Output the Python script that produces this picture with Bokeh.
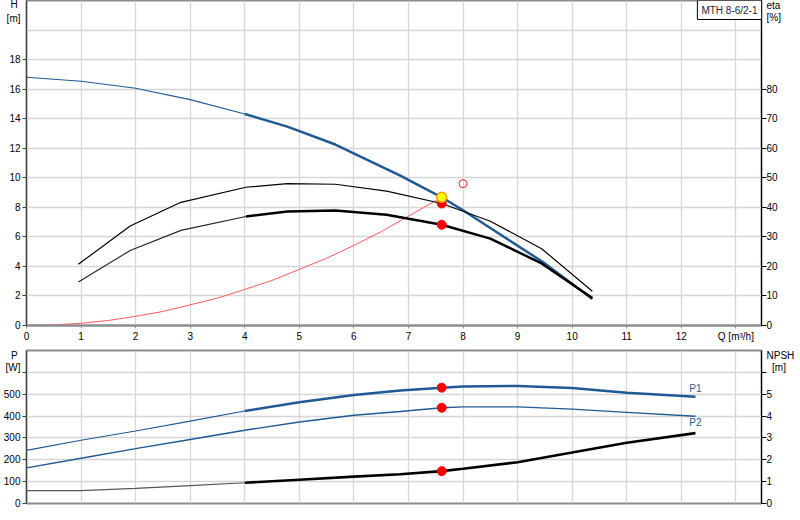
from bokeh.plotting import figure
from bokeh.layouts import column
from bokeh.models import Range1d, LinearAxis, FixedTicker, Label, NumeralTickFormatter
from bokeh.core.properties import value
from bokeh.embed import file_html
from bokeh.resources import INLINE

# ---------------- data ----------------
q_ticks = [0, 1, 2, 3, 4, 5, 6, 7, 8, 9, 10, 11, 12, 13]
h_ticks = [0, 2, 4, 6, 8, 10, 12, 14, 16, 18]
eta_ticks = [0, 10, 20, 30, 40, 50, 60, 70, 80]
p_ticks = [0, 100, 200, 300, 400, 500]
npsh_ticks = [0, 1, 2, 3, 4, 5]
p_mark_ticks = [0, 100, 200, 300, 400, 500, 600]
npsh_mark_ticks = [0, 1, 2, 3, 4, 5, 6]

# pump head curve H [m]
q_h = [0, 1, 2, 3, 4, 4.78, 5.66, 6.85, 7.61, 8.0, 8.5, 9.47, 10.37]
h_pump = [16.8, 16.53, 16.06, 15.29, 14.32, 13.46, 12.25, 10.15, 8.68, 7.8, 6.6, 4.28, 1.8]

# efficiency curves eta [%]
q_eta = [0.95, 1.9, 2.83, 4.02, 4.78, 5.66, 6.6, 7.61, 8.5, 9.44, 10.37]
eta_upper = [20.7, 33.7, 41.7, 46.8, 48.0, 47.8, 45.5, 41.3, 35.3, 26.0, 11.6]
eta_lower = [14.7, 25.4, 32.2, 36.9, 38.6, 38.9, 37.5, 34.1, 29.4, 21.0, 9.3]

# system curve H [m]
q_sys = [0, 0.5, 1, 1.5, 2, 2.5, 3, 3.5, 4, 4.5, 5, 5.5, 6, 6.5, 7, 7.61]
h_sys = [0, 0.04, 0.15, 0.34, 0.62, 0.95, 1.4, 1.85, 2.44, 3.05, 3.8, 4.55, 5.42, 6.35, 7.4, 8.68]

# duty point and requested point
q_duty = [7.61]
h_duty = [8.68]
eta_duty = [41.3, 34.1]
q_req = [8.0]
h_req = [9.6]

# power P1/P2 [W] and NPSH [m]
q_p = [0, 1, 2, 3, 4, 5, 6, 6.85, 7.61, 8, 9, 10, 11, 12.26]
p1 = [243, 289, 332, 377, 423, 463, 496, 517, 530, 535, 538, 528, 507, 488]
p2 = [163, 207, 251, 293, 335, 373, 404, 421, 438, 442, 442, 432, 417, 399]
npsh = [0.59, 0.59, 0.69, 0.82, 0.95, 1.09, 1.23, 1.34, 1.48, 1.59, 1.89, 2.33, 2.78, 3.22]
p_duty = [530, 438]
npsh_duty = [1.48]

title_text = "MTH 8-6/2-1"
curve_names = ["P1", "P2"]
curve_label_pos = [527, 372]

# axis titles, written as tick labels at the top of each axis
h_title = {21.7: "H\u00a0", 20.8: "[m]"}
eta_title = {108.3: "eta", 104.1: "[%]"}
p_title = {679: "P\u00a0", 622: "[W]"}
npsh_title = {6.79: "NPSH", 6.22: "\u00a0\u00a0[m]"}

# ---------------- style ----------------
FONT = "Liberation Sans"
FS = "10px"
BLUE = "#1f5a94"
GRID = "#d6d6d6"
Q_MAX = 13.47
idx4 = 4
W = 800
BL = 26
BR = 39


def style_axis(ax, color, mark_ticks, label_ticks, titles, tick_out, standoff):
    """Labels are majors (no marks); the visible tick marks are minor ticks."""
    ax.ticker = FixedTicker(ticks=label_ticks + list(titles.keys()), minor_ticks=mark_ticks)
    ax.formatter = NumeralTickFormatter(format="0")
    ax.major_label_overrides = dict(titles)
    ax.axis_line_color = color
    ax.major_tick_line_color = None
    ax.major_tick_out = 0
    ax.major_tick_in = 0
    ax.minor_tick_line_color = color
    ax.minor_tick_out = tick_out
    ax.minor_tick_in = 0
    ax.major_label_standoff = standoff
    ax.major_label_text_font = FONT
    ax.major_label_text_font_size = FS
    ax.major_label_text_color = "#000000"


# ---------------- top chart ----------------
top = figure(width=W, height=345, output_backend="svg", toolbar_location=None,
             x_range=Range1d(0, Q_MAX), y_range=Range1d(0, 22),
             min_border_left=BL, min_border_right=BR, min_border_top=0, min_border_bottom=20)
top.extra_y_ranges = {"eta": Range1d(0, 110)}
top.outline_line_color = "#8c8c8c"
top.outline_line_width = 2
top.xgrid.ticker = FixedTicker(ticks=q_ticks[1:])
top.ygrid.ticker = FixedTicker(ticks=h_ticks[1:] + [20])
top.xgrid.grid_line_color = GRID
top.ygrid.grid_line_color = GRID
top.xgrid.grid_line_width = 1.3
top.ygrid.grid_line_width = 1.3

xa = top.xaxis[0]
xa.ticker = FixedTicker(ticks=q_ticks)
xa.major_label_overrides = {13: "Q [m³/h]"}
xa.axis_line_color = "#8c8c8c"
xa.axis_line_width = 2
xa.major_tick_line_color = "#8c8c8c"
xa.major_tick_out = 3
xa.major_tick_in = 0
xa.minor_tick_line_color = None
xa.major_label_standoff = 2
xa.major_label_text_font = FONT
xa.major_label_text_font_size = FS
xa.major_label_text_color = "#000000"

style_axis(top.yaxis[0], "#404040", h_ticks, h_ticks, h_title, 4, 2)

eta_axis = LinearAxis(y_range_name="eta")
style_axis(eta_axis, "#000000", eta_ticks, eta_ticks, eta_title, 5, 0)
top.add_layout(eta_axis, "right")

top.line(q_sys, h_sys, line_color="#ff5a5a", line_width=1)
top.line(q_h[:idx4 + 1], h_pump[:idx4 + 1], line_color=BLUE, line_width=1.1)
top.line(q_h[idx4:], h_pump[idx4:], line_color=BLUE, line_width=2.5)
top.line(q_eta, eta_upper, line_color="#000000", line_width=1.2, y_range_name="eta")
top.line(q_eta[:4], eta_lower[:4], line_color="#222222", line_width=1.1, y_range_name="eta")
top.line(q_eta[3:], eta_lower[3:], line_color="#000000", line_width=2.4, y_range_name="eta")
top.scatter(q_duty * 2, eta_duty, size=9, fill_color="#ff0000", line_color="#ff0000",
            y_range_name="eta")
top.scatter(q_duty, h_duty, size=10, fill_color="#ffff00", line_color="#ff9a00", line_width=1.5)
top.scatter(q_req, h_req, size=8, fill_color=None, line_color="#ff2020", line_width=1)

top.add_layout(Label(x=Q_MAX, y=22, text=title_text, text_align="right", text_baseline="top",
                     text_font=FONT, text_font_size=FS, text_color="#1a2340",
                     background_fill_color="white", border_line_color="#000000",
                     border_line_width=1, padding=4))

# ---------------- bottom chart ----------------
bot = figure(width=W, height=166, output_backend="svg", toolbar_location=None,
             x_range=top.x_range, y_range=Range1d(0, 700),
             min_border_left=BL, min_border_right=BR, min_border_top=5, min_border_bottom=8)
bot.extra_y_ranges = {"npsh": Range1d(0, 7)}
bot.outline_line_color = "#8c8c8c"
bot.outline_line_width = 2
bot.xgrid.ticker = FixedTicker(ticks=q_ticks[1:])
bot.ygrid.ticker = FixedTicker(ticks=p_mark_ticks[1:])
bot.xgrid.grid_line_color = GRID
bot.ygrid.grid_line_color = GRID
bot.xgrid.grid_line_width = 1.3
bot.ygrid.grid_line_width = 1.3
bot.xaxis.visible = False

style_axis(bot.yaxis[0], "#404040", p_mark_ticks, p_ticks, p_title, 4, 2)

npsh_axis = LinearAxis(y_range_name="npsh")
style_axis(npsh_axis, "#000000", npsh_mark_ticks, npsh_ticks, npsh_title, 5, 0)
bot.add_layout(npsh_axis, "right")

bot.line(q_p[:idx4 + 1], p1[:idx4 + 1], line_color=BLUE, line_width=1.1)
bot.line(q_p[idx4:], p1[idx4:], line_color=BLUE, line_width=2.5)
bot.line(q_p, p2, line_color=BLUE, line_width=1.4)
bot.line(q_p[:idx4 + 1], npsh[:idx4 + 1], line_color="#555555", line_width=1.2, y_range_name="npsh")
bot.line(q_p[idx4:], npsh[idx4:], line_color="#000000", line_width=2.6, y_range_name="npsh")
bot.scatter(q_duty * 2, p_duty, size=9, fill_color="#ff0000", line_color="#ff0000")
bot.scatter(q_duty, npsh_duty, size=9, fill_color="#ff0000", line_color="#ff0000",
            y_range_name="npsh")
bot.text(x=[q_p[-1]] * 2, y=curve_label_pos, text=curve_names, text_color=BLUE,
         text_font=value(FONT), text_font_size=FS, text_align="center", text_baseline="middle")

layout = column(top, bot)
open("out.html", "w").write(file_html(layout, INLINE))
